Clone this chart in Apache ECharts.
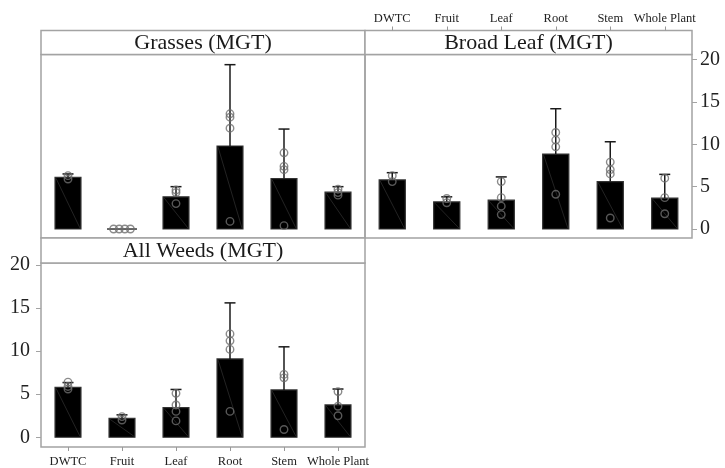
<!DOCTYPE html>
<html>
<head>
<meta charset="utf-8">
<script src="https://cdn.jsdelivr.net/npm/echarts@6/dist/echarts.min.js"></script>
<style>html,body{margin:0;padding:0;background:#fff}#c{width:725px;height:468px}</style>
</head>
<body>
<div id="c"></div>
<script>
// ---- data ----
const categories = ['DWTC', 'Fruit', 'Leaf', 'Root', 'Stem', 'Whole Plant'];
const yTickValues = [0, 5, 10, 15, 20];
const panelTitles = ['Grasses (MGT)', 'Broad Leaf (MGT)', 'All Weeds (MGT)'];

const grassMean  = [6.1, 0, 3.8, 9.8, 5.95, 4.35];
const grassUpper = [6.5, 0, 5.0, 19.4, 11.8, 5.0];
const grassPoints = [[6.3, 5.9], [0, 0, 0, 0], [4.6, 4.3, 3.0], [13.6, 13.2, 11.9, 0.9], [9.0, 7.4, 7.0, 0.4], [4.7, 4.3, 4.0]];

const broadMean  = [5.8, 3.2, 3.4, 8.85, 5.6, 3.65];
const broadUpper = [6.65, 3.8, 6.15, 14.2, 10.3, 6.45];
const broadPoints = [[6.3, 5.6], [3.6, 3.1], [5.6, 3.7, 2.7, 1.7], [11.4, 10.5, 9.7, 4.1], [7.9, 7.0, 6.5, 1.3], [6.0, 3.7, 1.8]];

const allMean  = [5.8, 2.2, 3.45, 9.1, 5.5, 3.75];
const allUpper = [6.35, 2.6, 5.55, 15.6, 10.5, 5.6];
const allPoints = [[6.4, 5.9, 5.6], [2.4, 2.0], [5.1, 3.75, 3.0, 1.9], [12.0, 11.2, 10.2, 3.0], [7.3, 6.9, 0.9], [5.3, 3.6, 2.5]];

// ---- chart ----
const FONT = '"Liberation Serif", "DejaVu Serif", serif';
const BORDER = '#a3a3a3';
const panels = [
  {mean: grassMean, upper: grassUpper, points: grassPoints},
  {mean: broadMean, upper: broadUpper, points: broadPoints},
  {mean: allMean, upper: allUpper, points: allPoints}
];
const grids = [
  {left: 41, top: 54.5, width: 324, height: 183.5},
  {left: 365, top: 54.5, width: 327, height: 183.5},
  {left: 41, top: 263, width: 324, height: 184}
];
const yRanges = [[-1.06, 20.6], [-1.06, 20.6], [-1.13, 20.23]];
const strips = [
  {x: 41, y: 30.5, w: 324, h: 24},
  {x: 365, y: 30.5, w: 327, h: 24},
  {x: 41, y: 238, w: 324, h: 25}
];

const xAxis = grids.map((g, i) => ({
  gridIndex: i, type: 'category', data: categories,
  position: i === 1 ? 'top' : 'bottom',
  offset: i === 1 ? 24 : 0,
  z: 20,
  axisLine: {show: false, onZero: false},
  axisTick: {show: i !== 0, alignWithLabel: true, length: 4, lineStyle: {color: '#999'}},
  axisLabel: {show: i !== 0, fontFamily: FONT, fontSize: 12.5, color: '#222', margin: i === 1 ? 5 : 8, interval: 0},
  splitLine: {show: false}
}));
const yAxis = grids.map((g, i) => ({
  gridIndex: i, type: 'value', min: yRanges[i][0], max: yRanges[i][1],
  position: i === 1 ? 'right' : 'left',
  axisLine: {show: false, onZero: false},
  axisTick: {show: i !== 0, length: 5, customValues: yTickValues, lineStyle: {color: BORDER}},
  axisLabel: {show: i !== 0, customValues: yTickValues, fontFamily: FONT, fontSize: 20, color: '#222', margin: i === 1 ? 8 : 11},
  splitLine: {show: false}
}));

const series = [];
panels.forEach((p, i) => {
  series.push({
    type: 'custom', xAxisIndex: i, yAxisIndex: i, z: 2,
    data: p.mean.map((v, k) => [k, v]),
    renderItem: function (params, api) {
      const x = api.value(0), y = api.value(1);
      const top = api.coord([x, y]);
      const base = api.coord([x, 0]);
      const bw = api.size([1, 0])[0] * 0.48;
      const h = base[1] - top[1];
      const children = [];
      if (h > 0.5) {
        children.push({type: 'rect', shape: {x: top[0] - bw / 2, y: top[1], width: bw, height: h},
          style: {fill: '#000', stroke: '#333', lineWidth: 1.2}});
        children.push({type: 'line', shape: {x1: top[0] - bw / 2 + 1, y1: top[1] + 1, x2: top[0] + bw / 2 - 1, y2: base[1] - 1},
          style: {stroke: '#2c2c2c', lineWidth: 0.8}});
      } else {
        children.push({type: 'line', shape: {x1: top[0] - bw / 2 - 2, y1: base[1], x2: top[0] + bw / 2 + 2, y2: base[1]},
          style: {stroke: '#333', lineWidth: 1.5}});
      }
      return {type: 'group', children: children};
    }
  });
  series.push({
    type: 'custom', xAxisIndex: i, yAxisIndex: i, z: 3,
    data: p.mean.map((v, k) => [k, v, p.upper[k]]),
    renderItem: function (params, api) {
      const x = api.value(0);
      const a = api.coord([x, api.value(1)]);
      const b = api.coord([x, api.value(2)]);
      const cw = 5.5;
      if (Math.abs(a[1] - b[1]) < 0.5) return {type: 'group', children: []};
      return {type: 'group', children: [
        {type: 'line', shape: {x1: a[0], y1: a[1], x2: b[0], y2: b[1]}, style: {stroke: '#1a1a1a', lineWidth: 1.5}},
        {type: 'line', shape: {x1: b[0] - cw, y1: b[1], x2: b[0] + cw, y2: b[1]}, style: {stroke: '#1a1a1a', lineWidth: 1.5}}
      ]};
    }
  });
  const pts = [];
  p.points.forEach((arr, k) => {
    const counts = {};
    arr.forEach(v => { counts[v] = (counts[v] || 0) + 1; });
    const seen = {};
    arr.forEach(v => {
      const n = counts[v];
      const idx = seen[v] || 0; seen[v] = idx + 1;
      const dx = n > 1 ? (idx - (n - 1) / 2) * 5.6 : 0;
      pts.push({value: [k, v], symbolOffset: [dx, 0]});
    });
  });
  series.push({
    type: 'scatter', xAxisIndex: i, yAxisIndex: i, z: 4,
    symbol: 'circle', symbolSize: 7.5,
    itemStyle: {color: 'rgba(0,0,0,0)', borderColor: '#6e6e6e', borderWidth: 1.4},
    data: pts
  });
});

const graphic = [];
strips.forEach((s, i) => {
  graphic.push({type: 'rect', shape: {x: s.x, y: s.y, width: s.w, height: s.h},
    style: {fill: '#fff', stroke: BORDER, lineWidth: 1.5}, z: 10});
  graphic.push({type: 'text', x: s.x + s.w / 2, y: s.y + s.h / 2 + 1, z: 11,
    style: {text: panelTitles[i], font: '22px ' + FONT, fill: '#1a1a1a', align: 'center', verticalAlign: 'middle'}});
});

const chart = echarts.init(document.getElementById('c'), null, {renderer: 'canvas'});
chart.setOption({
  animation: false,
  backgroundColor: '#fff',
  grid: grids.map(g => Object.assign({show: true, borderColor: BORDER, borderWidth: 1.5, backgroundColor: 'transparent', containLabel: false}, g)),
  xAxis: xAxis,
  yAxis: yAxis,
  series: series,
  graphic: graphic
});
</script>
</body>
</html>
